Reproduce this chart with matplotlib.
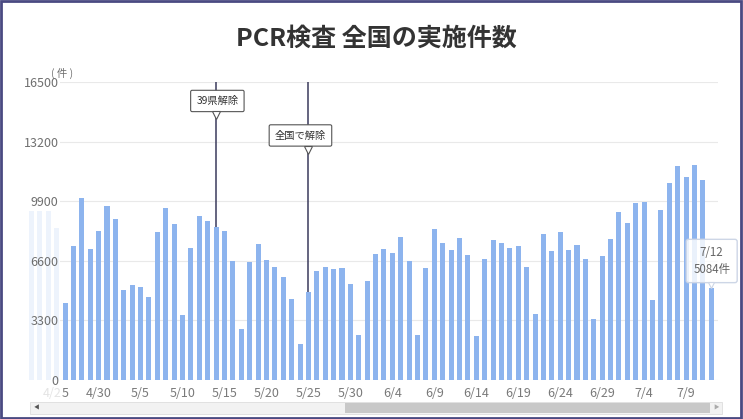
import pandas as pd
import numpy as np
import matplotlib.pyplot as plt
from matplotlib.patches import Rectangle

plt.rcParams['font.family'] = ['Noto Sans CJK JP', 'DejaVu Sans']

# データ (4/26 - 7/12)
start_date = "2020-04-26"
values = [
    4280, 7420, 10060, 7270, 8230,
    9630, 8910, 5000, 5280, 5150, 4610, 8190, 9540, 8620, 3600,
    7330, 9060, 8800, 8450, 8230, 6590, 2820, 6550, 7510, 6630,
    6280, 5720, 4500, 1980, 4850, 6050, 6240, 6150, 6200, 5300, 2510,
    5500, 6980, 7250, 7030, 7940, 6590, 2490, 6200, 8360, 7590,
    7220, 7880, 6920, 2440, 6680, 7730, 7590, 7290, 7400, 6240,
    3640, 8070, 7160, 8180, 7200, 7460, 6680, 3400, 6870, 7830,
    9320, 8710, 9800, 9860, 4430, 9410, 10910, 11830, 11260, 11920,
    11060, 5084,
]
# 表示範囲外 (4/22 - 4/25)
hidden_values = [9330, 9330, 9330, 8420]

y_ticks = [0, 3300, 6600, 9900, 13200, 16500]
tick_labels = ["4/25", "4/30", "5/5", "5/10", "5/15", "5/20", "5/25", "5/30",
               "6/4", "6/9", "6/14", "6/19", "6/24", "6/29", "7/4", "7/9"]

events = ["2020-05-14", "2020-05-25"]
event_labels = ["39県解除", "全国で解除"]
event_label_y = [15450, 13540]
event_label_dx = [0.15, -0.95]

dates = pd.date_range(start_date, periods=len(values))
x = np.arange(len(values))
x_hidden = np.arange(-len(hidden_values), 0)

bar_color = "#8db4ee"

fig = plt.figure(figsize=(7.43, 4.19), dpi=100)
ax = fig.add_axes([60 / 743, 39 / 419, 658 / 743, 298 / 419])

ax.bar(x, values, width=0.6, color=bar_color, zorder=2)
ax.bar(x_hidden, hidden_values, width=0.6, color="#edf3fc", zorder=0.3, clip_on=False)

ax.set_xlim(-0.6, 77.8)
ax.set_ylim(0, 16500)
ax.set_yticks(y_ticks)
ax.set_yticklabels([str(v) for v in y_ticks])
ax.set_axisbelow(True)
ax.grid(axis="y", color="#e9e9e9", lw=0.8)
for s in ax.spines.values():
    s.set_visible(False)
ax.tick_params(axis="y", length=0, pad=1, labelsize=9, colors="#6f6f6f")
ax.tick_params(axis="x", length=0, pad=5, labelsize=9, colors="#7a7a7a")

# x軸ラベル (5日毎)
tick_pos = [-1 + 5 * k for k in range(len(tick_labels))]
ax.set_xticks(tick_pos[1:])
ax.set_xticklabels(tick_labels[1:])
# 4/25 は左端で一部薄く表示
tr = ax.get_xaxis_transform()
ax.text(-0.36, -0.045, tick_labels[0][:-1], transform=tr, ha="right", va="center",
        fontsize=9, color="#e4e4e4", clip_on=False)
ax.text(-0.36, -0.045, tick_labels[0][-1], transform=tr, ha="left", va="center",
        fontsize=9, color="#7a7a7a", clip_on=False)

ax.text(-0.3, 16650, "( 件 )", fontsize=7.5, color="#6f6f6f",
        ha="center", va="bottom", clip_on=False)

# イベント線とラベル
for d, lab, ly, dx in zip(events, event_labels, event_label_y, event_label_dx):
    i = dates.get_loc(pd.Timestamp(d))
    ax.vlines(i, values[i], 16500, color="#3b3b5c", lw=1.1, zorder=3)
    ax.text(i + dx, ly, lab, ha="center", va="center", fontsize=7.4, color="#333333", zorder=5,
            bbox=dict(boxstyle="round,pad=0.55,rounding_size=0.15", fc="white", ec="#555555", lw=0.8))
    ax.plot(i, ly - 800, marker="v", ms=6, mfc="white", mec="#555555", mew=0.8, zorder=6)

# ツールチップ
last = len(values) - 1
ax.text(last + 0.05, 6590, f"{dates[last].month}/{dates[last].day}\n{values[last]}件",
        ha="center", va="center", fontsize=8.3, color="#666666", linespacing=1.35,
        zorder=8, clip_on=False,
        bbox=dict(boxstyle="round,pad=0.6,rounding_size=0.2", fc=(1, 1, 1, 0.82),
                  ec="#cdd6e6", lw=1))
ax.plot(last, 5250, marker="v", ms=5, mfc=(1, 1, 1, 0.9), mec="#cdd6e6", mew=0.8,
        zorder=9, clip_on=False)

# タイトル
fig.text(376 / 743, 1 - 39 / 419, "PCR検査 全国の実施件数", ha="center", va="center",
         fontsize=18, fontweight="bold", color="#333333")

# スクロールバー
fig.patches.append(Rectangle((30 / 743, 5 / 419), 692 / 743, 12 / 419, transform=fig.transFigure,
                             fc="#f2f2f2", ec="#dddddd", lw=0.6))
fig.patches.append(Rectangle((345 / 743, 6 / 419), 365 / 743, 10 / 419, transform=fig.transFigure,
                             fc="#c8c8c8", ec="none"))
fig.text(36 / 743, 11 / 419, "◀", fontsize=4, color="#555555", ha="center", va="center")
fig.text(716 / 743, 11 / 419, "▶", fontsize=4, color="#aaaaaa", ha="center", va="center")

# 外枠
fig.patches.append(Rectangle((1 / 743, 1.5 / 419), 740 / 743, 416 / 419, transform=fig.transFigure,
                             fill=False, ec="#4a4a82", lw=2))

fig.savefig("out.png", dpi=100)
